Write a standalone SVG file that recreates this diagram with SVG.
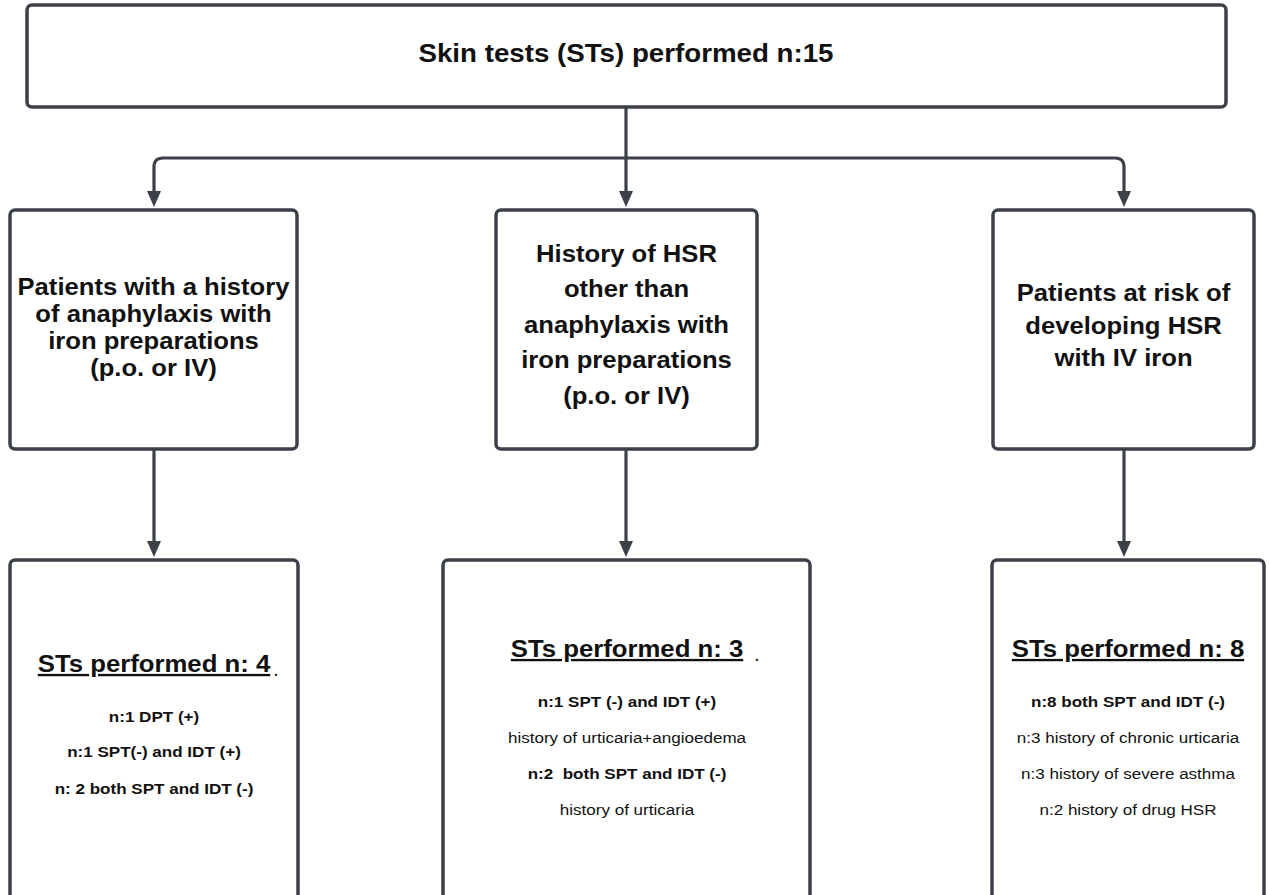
<svg xmlns="http://www.w3.org/2000/svg" width="1269" height="895" viewBox="0 0 1269 895">
  <style>
    .box { fill: #ffffff; stroke: #3c4049; stroke-width: 3.5; }
    .conn { fill: none; stroke: #3c4049; stroke-width: 3.2; }
    text { font-family: "Liberation Sans", Arial, Helvetica, sans-serif; fill: #111111; text-anchor: middle; }
    .top { font-size: 25.2px; font-weight: bold; }
    .mid { font-size: 23.3px; font-weight: bold; }
    .ttl { font-size: 23.4px; font-weight: bold; text-decoration: underline; }
    .b { font-size: 15.5px; font-weight: bold; }
    .r { font-size: 15.5px; }
    .dot { font-size: 14px; font-weight: bold; }
  </style>
  <defs>
    <marker id="arr" viewBox="0 0 16 14" refX="10" refY="7" markerWidth="16" markerHeight="14" markerUnits="userSpaceOnUse" orient="auto">
      <path d="M0,0 L16,7 L0,14 z" fill="#3c4049"/>
    </marker>
  </defs>
  <rect width="1269" height="895" fill="#ffffff"/>

  <g id="connectors">
    <path class="conn" d="M626,107 V201" marker-end="url(#arr)"/>
    <path class="conn" d="M626,158 H163 Q154,158 154,167 V201" marker-end="url(#arr)"/>
    <path class="conn" d="M626,158 H1115 Q1124,158 1124,167 V201" marker-end="url(#arr)"/>
    <path class="conn" d="M154,449 V551" marker-end="url(#arr)"/>
    <path class="conn" d="M626,449 V551" marker-end="url(#arr)"/>
    <path class="conn" d="M1124,449 V551" marker-end="url(#arr)"/>
  </g>

  <g id="node-top">
    <rect class="box" x="27" y="5" width="1199" height="102" rx="5"/>
    <g transform="translate(626,0) scale(1.1,1)">
      <text class="top" x="0" y="62">Skin tests (STs) performed n:15</text>
    </g>
  </g>

  <g id="node-anaphylaxis">
    <rect class="box" x="10" y="210" width="287" height="239" rx="5"/>
    <g transform="translate(153.5,0) scale(1.1,1)">
      <text class="mid" x="0" y="295">Patients with a history</text>
      <text class="mid" x="0" y="322">of anaphylaxis with</text>
      <text class="mid" x="0" y="349">iron preparations</text>
      <text class="mid" x="0" y="376">(p.o. or IV)</text>
    </g>
  </g>

  <g id="node-other-hsr">
    <rect class="box" x="496" y="210" width="261" height="239" rx="5"/>
    <g transform="translate(626.5,0) scale(1.1,1)">
      <text class="mid" x="0" y="262">History of HSR</text>
      <text class="mid" x="0" y="297">other than</text>
      <text class="mid" x="0" y="333">anaphylaxis with</text>
      <text class="mid" x="0" y="368">iron preparations</text>
      <text class="mid" x="0" y="404">(p.o. or IV)</text>
    </g>
  </g>

  <g id="node-risk">
    <rect class="box" x="993" y="210" width="261" height="239" rx="5"/>
    <g transform="translate(1123.5,0) scale(1.1,1)">
      <text class="mid" x="0" y="301">Patients at risk of</text>
      <text class="mid" x="0" y="334">developing HSR</text>
      <text class="mid" x="0" y="366">with IV iron</text>
    </g>
  </g>

  <g id="node-st-4">
    <rect class="box" x="10" y="560" width="288" height="360" rx="5"/>
    <g transform="translate(154,0) scale(1.1,1)">
      <text class="ttl" x="0" y="672">STs performed n: 4</text>
      <text class="b" x="0" y="722">n:1 DPT (+)</text>
      <text class="b" x="0" y="757">n:1 SPT(-) and IDT (+)</text>
      <text class="b" x="0" y="794">n: 2 both SPT and IDT (-)</text>
    </g>
    <text class="dot" x="276" y="676">.</text>
  </g>

  <g id="node-st-3">
    <rect class="box" x="443" y="560" width="367" height="360" rx="5"/>
    <g transform="translate(627,0) scale(1.1,1)">
      <text class="ttl" x="0" y="657">STs performed n: 3</text>
      <text class="b" x="0" y="707">n:1 SPT (-) and IDT (+)</text>
      <text class="r" x="0" y="743">history of urticaria+angioedema</text>
      <text class="b" x="0" y="779" xml:space="preserve">n:2  both SPT and IDT (-)</text>
      <text class="r" x="0" y="815">history of urticaria</text>
    </g>
    <text class="dot" x="757" y="661">.</text>
  </g>

  <g id="node-st-8">
    <rect class="box" x="992" y="560" width="272" height="360" rx="5"/>
    <g transform="translate(1128,0) scale(1.1,1)">
      <text class="ttl" x="0" y="657">STs performed n: 8</text>
      <text class="b" x="0" y="707">n:8 both SPT and IDT (-)</text>
      <text class="r" x="0" y="743">n:3 history of chronic urticaria</text>
      <text class="r" x="0" y="779">n:3 history of severe asthma</text>
      <text class="r" x="0" y="815">n:2 history of drug HSR</text>
    </g>
  </g>
</svg>
